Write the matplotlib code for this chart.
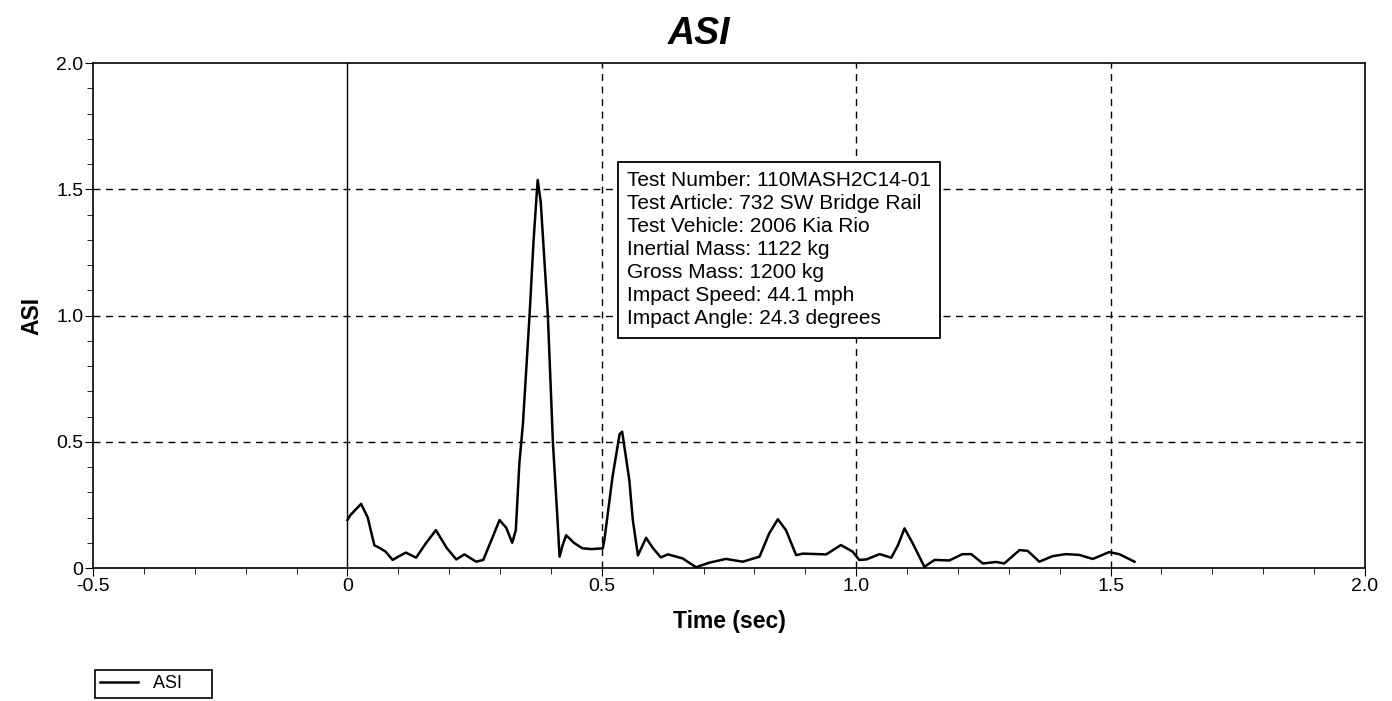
import numpy as np
import matplotlib.pyplot as plt
from matplotlib.ticker import MultipleLocator, FuncFormatter

plt.rcParams['font.family'] = ['Liberation Sans', 'DejaVu Sans']

# ASI curve
time = [0.0, 0.006, 0.027, 0.040, 0.053, 0.063, 0.075, 0.089, 0.100, 0.115,
        0.135, 0.155, 0.174, 0.195, 0.214, 0.230, 0.253, 0.267, 0.285, 0.299,
        0.312, 0.324, 0.331, 0.338, 0.345, 0.358, 0.366, 0.374, 0.380, 0.394,
        0.404, 0.413, 0.417, 0.423, 0.430, 0.445, 0.462, 0.480, 0.502, 0.505,
        0.521, 0.535, 0.540, 0.554, 0.561, 0.571, 0.578, 0.587, 0.600, 0.616,
        0.630, 0.659, 0.685, 0.711, 0.744, 0.777, 0.810, 0.829, 0.846, 0.862,
        0.882, 0.895, 0.941, 0.970, 0.993, 1.006, 1.020, 1.046, 1.069, 1.082,
        1.095, 1.111, 1.134, 1.154, 1.183, 1.209, 1.226, 1.249, 1.275, 1.291,
        1.321, 1.337, 1.360, 1.386, 1.412, 1.438, 1.465, 1.497, 1.517, 1.532,
        1.547]
asi = [0.19, 0.21, 0.254, 0.20, 0.09, 0.08, 0.065, 0.032, 0.045, 0.061,
       0.041, 0.10, 0.15, 0.08, 0.034, 0.054, 0.025, 0.032, 0.12, 0.19,
       0.16, 0.10, 0.15, 0.415, 0.57, 1.00, 1.30, 1.537, 1.45, 1.00,
       0.494, 0.19, 0.045, 0.09, 0.13, 0.10, 0.078, 0.075, 0.078, 0.11,
       0.36, 0.53, 0.54, 0.35, 0.19, 0.05, 0.08, 0.12, 0.08, 0.042,
       0.054, 0.038, 0.003, 0.021, 0.036, 0.025, 0.045, 0.137, 0.193, 0.15,
       0.051, 0.057, 0.054, 0.091, 0.065, 0.032, 0.034, 0.055, 0.041, 0.09,
       0.157, 0.098, 0.005, 0.032, 0.030, 0.055, 0.055, 0.018, 0.024, 0.018,
       0.071, 0.068, 0.025, 0.047, 0.055, 0.052, 0.036, 0.063, 0.055, 0.04,
       0.025]

info = ["Test Number: 110MASH2C14-01",
        "Test Article: 732 SW Bridge Rail",
        "Test Vehicle: 2006 Kia Rio",
        "Inertial Mass: 1122 kg",
        "Gross Mass: 1200 kg",
        "Impact Speed: 44.1 mph",
        "Impact Angle: 24.3 degrees"]

def fmt(v, pos):
    if abs(v) < 1e-9:
        return "0"
    return "%.1f" % v

fig = plt.figure(figsize=(13.92, 7.01), dpi=100)
ax = fig.add_axes([0.0668, 0.1897, 0.9138, 0.7204])

line, = ax.plot(time, asi, 'k-', linewidth=1.8)
ax.set_xlim(-0.5, 2.0)
ax.set_ylim(0, 2.0)

# grid: solid at zero time, dashed elsewhere
ax.axvline(0, color='k', linewidth=1.0)
for xv in [0.5, 1.0, 1.5]:
    ax.axvline(xv, color='k', linestyle=(0, (5, 4)), linewidth=1.0)
for yv in [0.5, 1.0, 1.5]:
    ax.axhline(yv, color='k', linestyle=(0, (5, 4)), linewidth=1.0)

ax.xaxis.set_major_locator(MultipleLocator(0.5))
ax.xaxis.set_minor_locator(MultipleLocator(0.1))
ax.yaxis.set_major_locator(MultipleLocator(0.5))
ax.yaxis.set_minor_locator(MultipleLocator(0.1))
ax.xaxis.set_major_formatter(FuncFormatter(fmt))
ax.yaxis.set_major_formatter(FuncFormatter(fmt))
ax.tick_params(which='major', direction='out', length=6, labelsize=14, pad=1)
ax.tick_params(which='minor', direction='out', length=4)
for s in ax.spines.values():
    s.set_linewidth(1.2)

fig.text(0.502, 0.952, "ASI", fontsize=27, fontweight='bold', style='italic',
         ha='center', va='center')
ax.set_xlabel("Time (sec)", fontsize=16.5, fontweight='bold', labelpad=11)
ax.set_ylabel("ASI", fontsize=16.5, fontweight='bold', labelpad=9)

ax.text(0.4198, 0.786, "\n".join(info), transform=ax.transAxes,
        fontsize=15, va='top', ha='left', linespacing=1.27,
        bbox=dict(boxstyle='square,pad=0.45', facecolor='white',
                  edgecolor='k', linewidth=1.3))

leg = fig.legend([line], ['ASI     '], loc='upper left',
                 bbox_to_anchor=(0.0682, 0.0445), borderaxespad=0,
                 fontsize=13, fancybox=False, edgecolor='k', framealpha=1,
                 handlelength=2.1, handletextpad=0.8, borderpad=0.3)
leg.get_frame().set_linewidth(1.2)

fig.savefig("out.png", dpi=100)
